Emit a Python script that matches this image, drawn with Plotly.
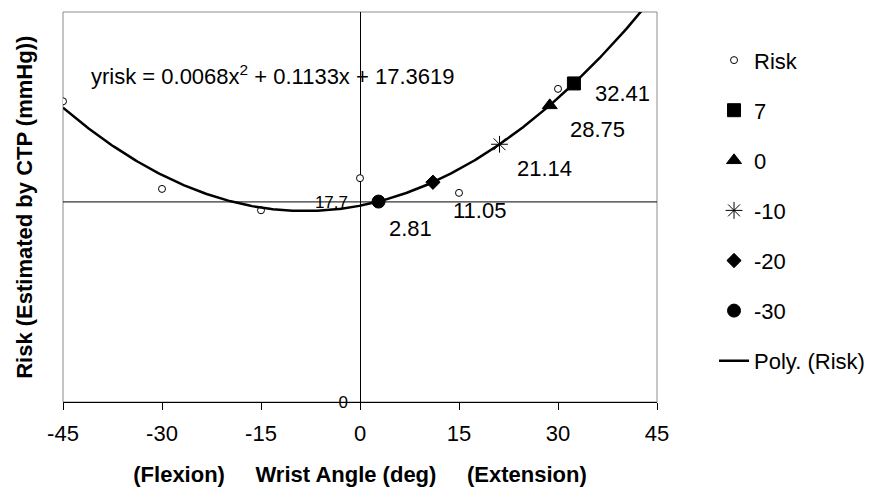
import numpy as np
import plotly.graph_objects as go

# ---- data ----
risk_x = [-45, -30, -15, 0, 15, 30]
risk_y = [26.6, 18.85, 16.96, 19.8, 18.5, 27.7]

point_names = ["7", "0", "-10", "-20", "-30"]
point_x = [32.41, 28.75, 21.14, 11.05, 2.81]
point_y = [28.18, 26.24, 22.80, 19.44, 17.73]
point_labels = ["32.41", "28.75", "21.14", "11.05", "2.81"]

poly_coef = [0.0068, 0.1133, 17.3619]   # trendline coefficients shown on chart
ref_level = 17.7

x_ticks = [-45, -30, -15, 0, 15, 30, 45]
x_tick_text = ["-45", "-30", "-15", "0", "15", "30", "45"]
y_ticks = [0, 17.7]
y_tick_text = ["0", "17.7"]

# ---- styles ----
FONT = "Arial, Liberation Sans, sans-serif"
symbols = ["square", "triangle-up", "asterisk-open", "diamond", "circle"]
sizes = [13, 13, 14, 11, 13]
label_dx = [19, 18, 15, 18, 8]
label_dy = [10, 24, 24, 28, 27]

fig = go.Figure()

fig.add_trace(go.Scatter(
    x=risk_x, y=risk_y, mode="markers", name="Risk", legendgroup="g0",
    marker=dict(symbol="circle", size=7, color="white",
                line=dict(color="black", width=1)),
))

for i, (nm, px_, py_) in enumerate(zip(point_names, point_x, point_y)):
    mk = dict(symbol=symbols[i], size=sizes[i], color="black",
              line=dict(color="black", width=1))
    fig.add_trace(go.Scatter(
        x=[px_], y=[py_], mode="markers", name=nm, legendgroup=f"g{i+1}",
        marker=mk,
    ))

xs = np.linspace(-45, 45, 400)
fig.add_trace(go.Scatter(
    x=xs, y=np.polyval(poly_coef, xs), mode="lines", name="Poly. (Risk)",
    legendgroup="g9", line=dict(color="black", width=2.5),
))

# data labels
for i, (px_, py_, lab) in enumerate(zip(point_x, point_y, point_labels)):
    fig.add_annotation(x=px_, y=py_, xref="x", yref="y", text=lab,
                       showarrow=False, xanchor="left", yanchor="middle",
                       xshift=label_dx[i], yshift=-label_dy[i],
                       font=dict(family=FONT, size=22, color="black"))

# equation
fig.add_annotation(xref="paper", yref="paper", x=0.043, y=0.838,
                   text="yrisk = 0.0068x<sup>2</sup> + 0.1133x + 17.3619",
                   showarrow=False, xanchor="left", yanchor="middle",
                   font=dict(family=FONT, size=22, color="black"))

# y title
fig.add_annotation(xref="paper", yref="paper", x=-0.066, y=0.5,
                   text="<b>Risk (Estimated by CTP (mmHg))</b>", textangle=-90,
                   showarrow=False, xanchor="center", yanchor="middle",
                   font=dict(family=FONT, size=22, color="black"))

# plot-area border (gray) and reference line
fig.add_shape(type="rect", xref="x domain", yref="y domain", x0=0, x1=1, y0=0, y1=1,
              line=dict(color="#8c8c8c", width=1), layer="below")
fig.add_shape(type="line", xref="x domain", yref="y", x0=0, x1=1,
              y0=ref_level, y1=ref_level, line=dict(color="black", width=1),
              layer="below")

sp = "\u00a0" * 5
fig.update_layout(
    width=873, height=487,
    margin=dict(l=63, r=216, t=12, b=85, autoexpand=False),
    paper_bgcolor="white", plot_bgcolor="white",
    font=dict(family=FONT, size=22, color="black"),
    showlegend=True,
    legend=dict(x=1.096, y=0.930, xanchor="left", yanchor="top",
                font=dict(family=FONT, size=22, color="black"),
                tracegroupgap=18.5, bgcolor="rgba(0,0,0,0)"),
    xaxis=dict(range=[-45, 45], tickvals=x_ticks, ticktext=x_tick_text,
               ticks="outside", ticklen=7, automargin=False,
               ticklabelstandoff=5,
               tickcolor="black", showline=True, linecolor="black", linewidth=1,
               showgrid=False, zeroline=True, zerolinecolor="black",
               zerolinewidth=1,
               tickfont=dict(family=FONT, size=22, color="black"),
               title=dict(text=f"<b>(Flexion){sp}Wrist Angle (deg){sp}(Extension)</b>",
                          font=dict(family=FONT, size=22, color="black"),
                          standoff=22)),
    yaxis=dict(range=[0, 34.5], tickvals=y_ticks, ticktext=y_tick_text,
               anchor="free", position=0.5, showline=False, showgrid=False,
               zeroline=False, ticks="", ticklabelstandoff=12, automargin=False,
               tickfont=dict(family=FONT, size=17, color="black")),
)

fig.write_html("out.html", config={"displayModeBar": False},
               post_script="document.body.style.margin='0px';")
